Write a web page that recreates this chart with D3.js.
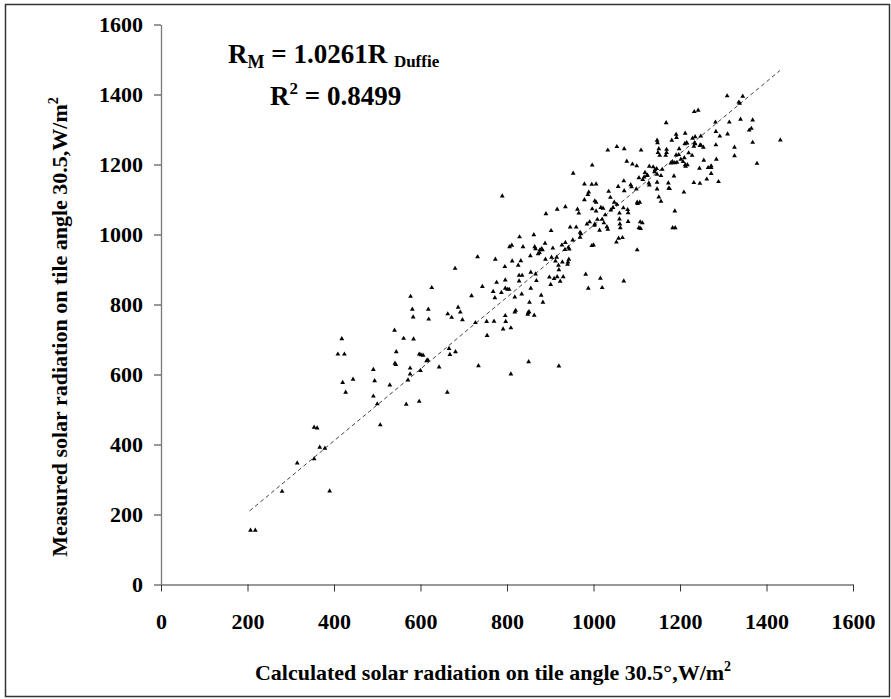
<!DOCTYPE html>
<html><head><meta charset="utf-8">
<script src="https://cdn.jsdelivr.net/npm/d3@7"></script>
<style>html,body{margin:0;padding:0;background:#fff}svg{display:block}</style>
</head><body>
<script>
// Calculated (x) and measured (y) solar radiation, W/m^2
const calcX = [207,218,280,390,315,354,367,379,354,361,418,409,424,420,427,444,491,494,491,500,507,529,540,544,541,543,561,577,581,583,584,576,576,571,567,597,597,
601,606,614,617,600,643,662,666,668,681,663,672,687,692,697,618,619,626,680,718,727,732,743,734,754,753,770,768,772,776,787,773,789,795,796,796,801,805,796,797,791,809,809,806,811,812,818,818,820,829,826,832,828,835,828,837,834,849,851,848,852,850,855,854,855,863,862,864,866,866,868,872,875,876,880,882,879,883,888,889,890,898,901,902,906,903,909,912,915,916,919,920,916,920,923,928,927,930,935,934,935,942,944,943,941,940,946,952,953,960,963,966,969,969,971,979,979,982,985,987,989,988,991,996,997,997,1000,996,1003,1006,1002,1003,1006,1006,1009,1014,1016,1017,1022,1020,1020,1024,1027,1031,1035,1033,1039,1040,1045,1048,1054,1053,1058,1057,1060,1060,1061,1062,1067,1070,1069,1070,1071,1077,1079,1080,1080,1086,1088,1090,1100,1101,1099,1101,1102,1105,1107,1108,1113,1109,1105,1110,1114,1117,1119,1123,1125,1128,1129,1129,1138,1142,1146,1141,1147,1147,1147,1149,1153,1151,1156,1156,1159,1167,1169,1173,1174,1176,1179,1183,1186,1188,1191,1197,1188,1193,1183,1189,1202,1207,1210,1212,1213,1217,1209,1220,1228,1232,1245,1246,
1233,1242,1168,1191,1192,1212,1181,1147,1148,1229,1235,1215,1248,1198,1033,1054,1071,1211,1216,1151,1169,1254,1255,1262,1265,
1309,1345,1336,1338,1282,1314,1340,1368,1283,1292,1310,1360,1365,1368,1432,1248,1234,1235,1232,1246,1283,1326,1284,1326,1378,1272,1272,1272,1289];
const measY = [155,155,266,267,347,359,392,389,449,447,702,658,658,577,549,586,614,582,538,516,456,570,726,665,632,628,703,823,786,764,701,618,601,584,515,658,523,
656,655,639,641,611,621,549,674,657,665,773,763,792,778,756,786,758,848,903,825,748,936,851,625,711,751,752,837,819,863,834,929,1110,908,870,846,843,843,768,751,730,733,601,965,969,924,821,778,783,993,912,925,883,883,867,965,830,777,779,772,806,636,892,939,846,769,999,965,959,887,868,945,948,956,959,956,826,806,975,929,1059,878,857,1011,961,935,874,924,935,1072,912,899,879,624,866,921,970,879,1079,957,977,963,958,929,921,915,1021,984,1175,1021,1072,1061,1006,992,1002,1099,1144,886,1030,1114,1121,846,1036,1143,1198,1073,970,968,1096,1092,1026,1030,1067,1144,1043,1012,875,1077,1075,848,1043,1033,1056,1022,1123,1015,1106,1070,1077,1092,1086,978,989,1137,1061,1044,1030,1019,991,867,1076,1153,1125,1209,1071,1062,1037,1142,1136,1201,1196,956,1130,1092,1088,1162,1092,1036,1033,1017,1019,1241,1157,1164,1177,1168,1169,1147,1141,1195,1193,1185,1188,1179,1172,1130,1149,1234,1226,1107,1095,1168,1186,1226,1234,1147,1132,1131,1204,1207,1167,1067,1227,1228,1205,1206,1019,1019,1215,1208,1219,1199,1195,1199,1121,1233,1226,1148,1189,1146,
1351,1355,1319,1286,1277,1289,1269,1269,1262,1275,1279,1262,1256,1245,1241,1251,1245,1259,1261,1245,1243,1249,1212,1158,1191,
1396,1395,1378,1375,1321,1321,1329,1327,1294,1281,1287,1298,1303,1263,1270,1281,1262,1259,1252,1254,1256,1249,1215,1225,1203,1196,1191,1174,1151];
const fitSlope = 1.0261;
const fitRange = [205, 1431];
const xTicks = [0,200,400,600,800,1000,1200,1400,1600];
const yTicks = [0,200,400,600,800,1000,1200,1400,1600];

const W = 891, H = 699;
const svg = d3.select("body").append("svg").attr("width", W).attr("height", H);
svg.append("rect").attr("width", W).attr("height", H).attr("fill", "#fff");
svg.append("rect").attr("x", 5.5).attr("y", 4.5).attr("width", 884).attr("height", 692)
  .attr("fill", "none").attr("stroke", "#333").attr("stroke-width", 1.5);

const x = d3.scaleLinear().domain([0, 1600]).range([161, 853]);
const y = d3.scaleLinear().domain([0, 1600]).range([584.5, 24.5]);
const font = "'Liberation Serif','Times New Roman',serif";

const xAxis = svg.append("g").attr("transform", "translate(0,584.5)")
  .call(d3.axisBottom(x).tickValues(xTicks).tickFormat(d3.format("d")).tickSize(7).tickPadding(22).tickSizeOuter(0));
const yAxis = svg.append("g").attr("transform", "translate(161,0)")
  .call(d3.axisLeft(y).tickValues(yTicks).tickFormat(d3.format("d")).tickSize(7).tickPadding(11).tickSizeOuter(0));
[xAxis, yAxis].forEach(g => {
  g.select(".domain").attr("stroke", "#777").attr("stroke-width", 1.3);
  g.selectAll(".tick line").attr("stroke", "#333").attr("stroke-width", 1);
  g.selectAll(".tick text").attr("font-family", font).attr("font-weight", "bold")
    .attr("font-size", 22).attr("fill", "#000");
});

// trend line
svg.append("line")
  .attr("x1", x(fitRange[0])).attr("y1", y(fitRange[0] * fitSlope))
  .attr("x2", x(fitRange[1])).attr("y2", y(fitRange[1] * fitSlope))
  .attr("stroke", "#444").attr("stroke-width", 1).attr("stroke-dasharray", "4,3");

// points
const tri = d3.symbol().type(d3.symbolTriangle).size(10);
svg.append("g").selectAll("path").data(calcX.map((v, i) => [v, measY[i]]))
  .join("path").attr("d", tri)
  .attr("transform", d => `translate(${x(d[0])},${y(d[1])})`)
  .attr("fill", "#000");

// equation
const eq1 = svg.append("text").attr("x", 228).attr("y", 63).attr("font-family", font)
  .attr("font-weight", "bold").attr("font-size", 27).attr("fill", "#000");
eq1.append("tspan").text("R");
eq1.append("tspan").attr("font-size", 18).attr("dy", 5).text("M");
eq1.append("tspan").attr("dy", -5).text(" = 1.0261R ");
eq1.append("tspan").attr("font-size", 17).attr("dy", 4).text("Duffie");
const eq2 = svg.append("text").attr("x", 270).attr("y", 105).attr("font-family", font)
  .attr("font-weight", "bold").attr("font-size", 27).attr("fill", "#000");
eq2.append("tspan").text("R");
eq2.append("tspan").attr("font-size", 17).attr("dy", -11).text("2");
eq2.append("tspan").attr("dy", 11).text(" = 0.8499");

// axis titles
const xt = svg.append("text").attr("x", 493).attr("y", 680).attr("text-anchor", "middle")
  .attr("font-family", font).attr("font-weight", "bold").attr("font-size", 22).attr("fill", "#000");
xt.append("tspan").text("Calculated solar radiation on tile angle 30.5°,W/m");
xt.append("tspan").attr("font-size", 14).attr("dy", -9).text("2");
const yt = svg.append("text").attr("transform", "translate(67,327) rotate(-90)").attr("text-anchor", "middle")
  .attr("font-family", font).attr("font-weight", "bold").attr("font-size", 22).attr("fill", "#000");
yt.append("tspan").text("Measured solar radiation on tile angle 30.5,W/m");
yt.append("tspan").attr("font-size", 14).attr("dy", -9).text("2");
</script>
</body></html>
